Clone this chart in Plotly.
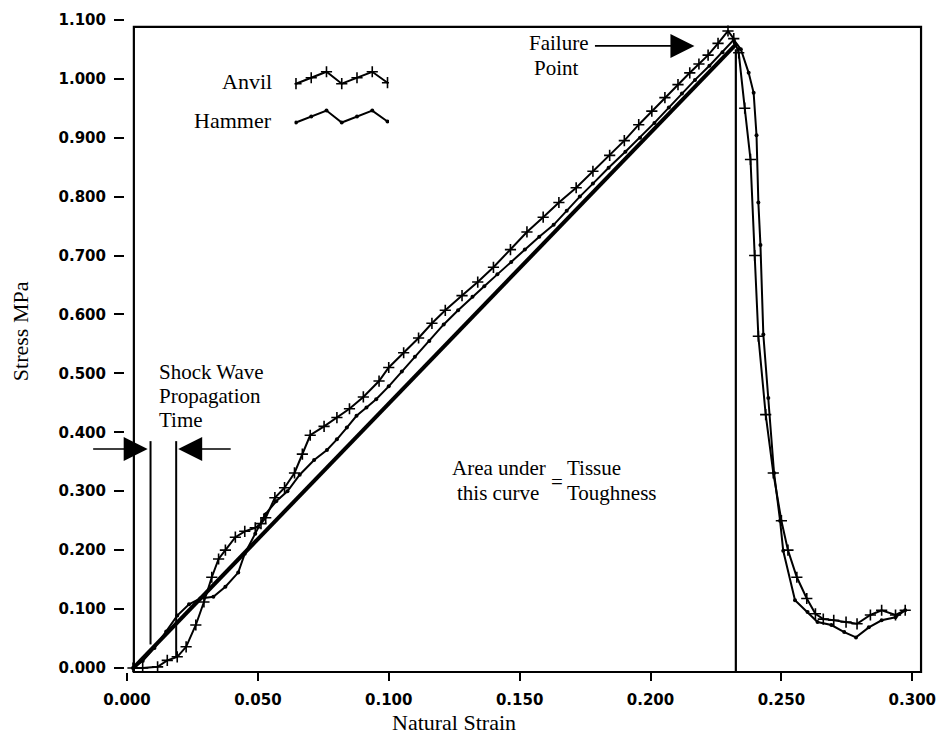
import plotly.graph_objects as go

# ---------------- data ----------------
anvil_strain = [0.0023, 0.0060, 0.0117, 0.0154, 0.0192, 0.0226, 0.0263, 0.0294, 0.0324, 0.0350,
                0.0376, 0.0414, 0.0450, 0.0490, 0.0512, 0.0530, 0.0565, 0.0602, 0.0640, 0.0670,
                0.0700, 0.0753, 0.0802, 0.0850, 0.0903, 0.0963, 0.1000, 0.1057, 0.1114, 0.1165,
                0.1216, 0.1280, 0.1340, 0.1400, 0.1465, 0.1528, 0.1590, 0.1650, 0.1716, 0.1780,
                0.1844, 0.1900, 0.1955, 0.2005, 0.2055, 0.2105, 0.2150, 0.2185, 0.2220, 0.2258,
                0.2296, 0.2318, 0.2337, 0.2360, 0.2382, 0.2398, 0.2412, 0.2440, 0.2469, 0.2500,
                0.2525, 0.2559, 0.2597, 0.2630, 0.2660, 0.2700, 0.2747, 0.2789, 0.2840, 0.2883,
                0.2936, 0.2973]
anvil_stress = [0.000, 0.000, 0.002, 0.013, 0.019, 0.036, 0.073, 0.112, 0.154, 0.185,
                0.200, 0.222, 0.232, 0.238, 0.245, 0.255, 0.289, 0.306, 0.331, 0.363,
                0.395, 0.410, 0.425, 0.440, 0.460, 0.487, 0.510, 0.535, 0.560, 0.585,
                0.607, 0.632, 0.655, 0.680, 0.710, 0.740, 0.765, 0.790, 0.815, 0.843,
                0.870, 0.895, 0.922, 0.945, 0.968, 0.990, 1.010, 1.025, 1.040, 1.060,
                1.081, 1.068, 1.044, 0.950, 0.863, 0.700, 0.563, 0.430, 0.331, 0.250,
                0.200, 0.154, 0.118, 0.092, 0.083, 0.081, 0.078, 0.075, 0.090, 0.098,
                0.090, 0.098]

hammer_strain = [0.0023, 0.0060, 0.0105, 0.0150, 0.0192, 0.0237, 0.0280, 0.0330, 0.0376, 0.0425,
                 0.0450, 0.0490, 0.0527, 0.0570, 0.0613, 0.0660, 0.0715, 0.0764, 0.0802, 0.0840,
                 0.0877, 0.0915, 0.0952, 0.1000, 0.1050, 0.1100, 0.1155, 0.1210, 0.1265, 0.1320,
                 0.1365, 0.1415, 0.1468, 0.1520, 0.1575, 0.1630, 0.1680, 0.1730, 0.1780, 0.1840,
                 0.1904, 0.1960, 0.2015, 0.2070, 0.2120, 0.2170, 0.2225, 0.2275, 0.2318, 0.2345,
                 0.2375, 0.2394, 0.2405, 0.2412, 0.2420, 0.2431, 0.2450, 0.2472, 0.2495, 0.2507,
                 0.2552, 0.2600, 0.2638, 0.2691, 0.2740, 0.2785, 0.2834, 0.2883, 0.2936, 0.2973]
hammer_stress = [0.000, 0.012, 0.034, 0.062, 0.089, 0.108, 0.118, 0.121, 0.138, 0.162,
                 0.194, 0.228, 0.260, 0.283, 0.300, 0.328, 0.353, 0.370, 0.388, 0.408,
                 0.428, 0.442, 0.456, 0.478, 0.503, 0.528, 0.555, 0.583, 0.607, 0.630,
                 0.648, 0.668, 0.689, 0.710, 0.732, 0.752, 0.776, 0.800, 0.822, 0.849,
                 0.876, 0.900, 0.925, 0.951, 0.975, 0.998, 1.022, 1.045, 1.066, 1.050,
                 1.010, 0.976, 0.904, 0.790, 0.718, 0.566, 0.458, 0.331, 0.250, 0.199,
                 0.115, 0.095, 0.078, 0.073, 0.061, 0.052, 0.069, 0.081, 0.086, 0.098]

# straight line whose area = tissue toughness
area_line_strain = [0.0024, 0.2330]
area_line_stress = [0.000, 1.060]
failure_strain = 0.2326
failure_line_top = 1.050

# shock wave propagation markers
shock_start_strain = 0.0090
shock_end_strain = 0.0188
shock_line_top = 0.385
shock_start_bottom = 0.040
shock_end_bottom = 0.019

x_ticks = [0.0, 0.05, 0.10, 0.15, 0.20, 0.25, 0.30]
x_tick_labels = ["0.000", "0.050", "0.100", "0.150", "0.200", "0.250", "0.300"]
y_ticks = [0.0, 0.1, 0.2, 0.3, 0.4, 0.5, 0.6, 0.7, 0.8, 0.9, 1.0, 1.1]
y_tick_labels = ["0.000", "0.100", "0.200", "0.300", "0.400", "0.500",
                 "0.600", "0.700", "0.800", "0.900", "1.000", "1.100"]

legend_names = ["Anvil", "Hammer"]
legend_zigzag = [0, 6, 12, 0, 6, 12, 1]

# ---------------- layout geometry (pixels) ----------------
W, H = 947, 741
L, R, T, B = 125, 936, 16, 672
X0_PX, X_SCALE = 127, 2657.0     # px of strain 0, px per unit strain
Y0_PX, Y_SCALE = 668, 592.0      # px of stress 0, px per unit stress
x_range = [(L - X0_PX) / X_SCALE, (R - X0_PX) / X_SCALE]
y_range = [(Y0_PX - B) / Y_SCALE, (Y0_PX - T) / Y_SCALE]


def px(p):
    return (p - L) / (R - L)


def py(p):
    return (B - p) / (B - T)


def dx(p):
    return (p - X0_PX) / X_SCALE


def dy(p):
    return (Y0_PX - p) / Y_SCALE


SERIF = "Liberation Serif, Times New Roman, serif"
SANS = "DejaVu Sans, Verdana, sans-serif"
INK = "#000000"

fig = go.Figure()

# thick straight line
fig.add_trace(go.Scatter(x=area_line_strain, y=area_line_stress, mode="lines",
                         line=dict(color=INK, width=4), showlegend=False, hoverinfo="skip"))
# hammer
fig.add_trace(go.Scatter(x=hammer_strain, y=hammer_stress, mode="lines+markers", name="Hammer",
                         line=dict(color=INK, width=2),
                         marker=dict(symbol="circle", size=4, color=INK), showlegend=False))
# anvil
fig.add_trace(go.Scatter(x=anvil_strain, y=anvil_stress, mode="lines+markers", name="Anvil",
                         line=dict(color=INK, width=2),
                         marker=dict(symbol="cross-thin", size=8, color=INK,
                                     line=dict(color=INK, width=1.6)), showlegend=False))

# vertical lines
fig.add_trace(go.Scatter(x=[failure_strain, failure_strain], y=[y_range[0], failure_line_top],
                         mode="lines", line=dict(color=INK, width=2.2), showlegend=False,
                         hoverinfo="skip"))
fig.add_trace(go.Scatter(x=[shock_start_strain, shock_start_strain],
                         y=[shock_start_bottom, shock_line_top],
                         mode="lines", line=dict(color=INK, width=2), showlegend=False,
                         hoverinfo="skip"))
fig.add_trace(go.Scatter(x=[shock_end_strain, shock_end_strain],
                         y=[shock_end_bottom, shock_line_top],
                         mode="lines", line=dict(color=INK, width=2), showlegend=False,
                         hoverinfo="skip"))

# custom legend glyphs (inset axes)
glyph_x = list(range(len(legend_zigzag)))
fig.add_trace(go.Scatter(x=glyph_x, y=[v + 39 for v in legend_zigzag], xaxis="x2", yaxis="y2",
                         mode="lines+markers", line=dict(color=INK, width=2),
                         marker=dict(symbol="cross-thin", size=8, color=INK,
                                     line=dict(color=INK, width=1.6)),
                         showlegend=False, hoverinfo="skip"))
fig.add_trace(go.Scatter(x=glyph_x, y=legend_zigzag, xaxis="x2", yaxis="y2",
                         mode="lines+markers", line=dict(color=INK, width=2),
                         marker=dict(symbol="circle", size=4, color=INK),
                         showlegend=False, hoverinfo="skip"))

annotations = []


def text(t, xp, yp, anchor="left", size=21):
    annotations.append(dict(text=t, x=px(xp), y=py(yp), xref="paper", yref="paper",
                            xanchor=anchor, yanchor="middle", showarrow=False,
                            font=dict(family=SERIF, size=size, color=INK)))


text(legend_names[0], 276, 79, "right", 22)
text(legend_names[1], 276, 118, "right", 22)
text("Shock Wave", 157, 371)
text("Propagation", 157, 395)
text("Time", 157, 419)
text("Failure", 597, 40, "right")
text("Point", 538, 65)
text("Area under", 554, 467, "right")
text("this curve", 460, 492)
text("=", 563, 481, "center")
text("Tissue", 572, 467)
text("Toughness", 572, 492)

# axis titles
annotations.append(dict(text="Natural Strain", x=px(459), y=py(723), xref="paper", yref="paper",
                        xanchor="center", yanchor="middle", showarrow=False,
                        font=dict(family=SERIF, size=22, color=INK)))
annotations.append(dict(text="Stress MPa", x=px(19), y=py(330), xref="paper", yref="paper",
                        xanchor="center", yanchor="middle", showarrow=False, textangle=-90,
                        font=dict(family=SERIF, size=22, color=INK)))


def arrow(tip_x, tip_y, ax):
    annotations.append(dict(text="", x=dx(tip_x), y=dy(tip_y), xref="x", yref="y",
                            ax=ax, ay=0, axref="pixel", ayref="pixel", showarrow=True,
                            arrowhead=2, arrowsize=3.0, arrowwidth=1.6, arrowcolor=INK,
                            standoff=0))


arrow(148, 448, -56)
arrow(179, 448, 54)
arrow(703, 43, -101)

frame = dict(type="rect", xref="paper", yref="paper",
             x0=px(134), x1=px(933), y0=0, y1=py(24),
             line=dict(color=INK, width=2.2), fillcolor="rgba(0,0,0,0)")

tick_font = dict(family=SANS, size=15, color=INK, weight="bold")

fig.update_layout(
    width=W, height=H,
    margin=dict(l=L, r=W - R, t=T, b=H - B),
    paper_bgcolor="white", plot_bgcolor="white",
    showlegend=False,
    annotations=annotations,
    shapes=[frame],
    xaxis=dict(range=x_range, tickvals=x_ticks, ticktext=x_tick_labels,
               showgrid=False, zeroline=False, showline=False,
               ticks="outside", ticklen=8, tickwidth=2, tickcolor=INK,
               ticklabelstandoff=6, ticklabeloverflow="allow", tickfont=tick_font),
    yaxis=dict(range=y_range, tickvals=y_ticks, ticktext=y_tick_labels,
               showgrid=False, zeroline=False, showline=False,
               ticks="outside", ticklen=10, tickwidth=2, tickcolor=INK,
               ticklabelstandoff=5, ticklabeloverflow="allow", tickfont=tick_font),
    xaxis2=dict(domain=[px(297), px(393)], range=[-0.1, 6.1], anchor="y2",
                visible=False, fixedrange=True),
    yaxis2=dict(domain=[py(125), py(60)], range=[-5, 60], anchor="x2",
                visible=False, fixedrange=True),
)

fig.write_html("out.html", config={"displayModeBar": False})
